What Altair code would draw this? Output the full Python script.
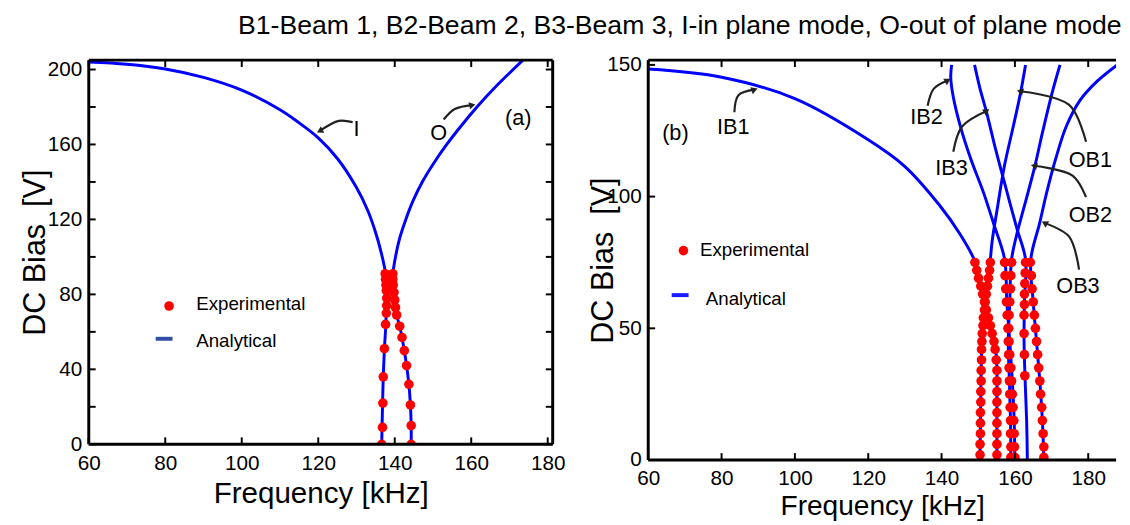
import math
import altair as alt
import pandas as pd

NARROW = "Liberation Sans Narrow, Arial Narrow, Liberation Sans, sans-serif"
SANS = "Liberation Sans, Arial, sans-serif"

# ---------------- panel (a) data ----------------
A_I_F = [60, 70, 80, 90, 100, 110, 115, 120, 125, 130, 133, 135, 136.5, 137.6, 137.8, 137.7, 137.3, 137.0, 136.8, 136.6]
A_I_V = [204, 202.8, 200.3, 195.8, 189, 178.5, 171.5, 163.5, 152.5, 137, 124.5, 113, 102, 91, 80, 65, 51, 36, 20, 0]
A_O_F = [144.3, 144.3, 144.1, 143.7, 143.1, 142.5, 141.9, 141.3, 140.5, 139.8, 139.5, 140.2, 141.3, 142.9, 144.8, 147.2, 150.2, 153.6, 157.4, 161.5, 166.0, 173.5]
A_O_V = [0, 10, 21, 32, 42, 50, 57, 63, 69, 80, 90, 100, 110, 120, 130, 140, 150, 160, 170, 180, 190, 205]

A_EXP_I_F = [136.6, 136.8, 136.9, 137.0, 137.3, 137.6, 137.8, 137.9, 137.9, 137.8, 137.7, 137.6, 137.5]
A_EXP_I_V = [0, 9, 22, 36, 51, 64, 70, 74, 78, 82, 85, 88, 91]
A_EXP_O_F = [144.3, 144.3, 144.1, 143.7, 143.1, 142.5, 141.9, 141.3, 140.5, 140.2, 140.0, 139.8, 139.6, 139.5, 139.5]
A_EXP_O_V = [0, 10, 21, 32, 42, 50, 57, 63, 69, 73, 77, 81, 85, 88, 91]

A_XTICKS = [60, 80, 100, 120, 140, 160, 180]
A_YTICKS = [0, 20, 40, 60, 80, 100, 120, 140, 160, 180, 200]
A_YLABELS = [0, 40, 80, 120, 160, 200]

A_LABELS = ["I", "O", "(a)"]
A_LABEL_F = [130.0, 151.5, 172.3]
A_LABEL_V = [168.2, 165.8, 174.0]

A_ARROWS = {
    "I": ([129.0, 125.4, 120.4], [171.9, 172.6, 167.2]),
    "O": ([152.8, 155.7, 160.3], [173.3, 178.9, 181.0]),
}

# ---------------- panel (b) data ----------------
B_CURVES = {
    "IB1": ([60, 80, 100, 120, 129.8, 139.4, 145.1, 149.1, 150.0, 150.9, 151.7, 152.6, 153.5, 154.3, 154.9, 155.1, 155.1, 155.1],
            [148.4, 145.3, 137.2, 121.6, 111.7, 96.8, 85.6, 75.4, 70, 65, 60, 55, 50, 45, 40, 35, 20, 0]),
    "IB2": ([142.75, 142.5, 143.2, 145.15, 148.0, 151.4, 154.3, 157.2, 157.8, 158.6, 159.3, 159.8, 160.0],
            [150, 145.3, 137.8, 126.6, 114.2, 101.7, 89.3, 76.2, 60, 45, 30, 15, 0]),
    "IB3": ([149.0, 150.4, 152.35, 154.75, 157.6, 160.5, 162.9, 162.6, 162.5, 162.8, 163.2, 163.4],
            [150, 141.5, 131.6, 117.9, 103, 88.1, 76.2, 60, 45, 30, 15, 0]),
    "OB1": ([162.9, 161.5, 159.55, 157.15, 155.2, 153.8, 153.3, 152.4, 151.5, 151.0, 150.7, 150.5],
            [150, 139.1, 126.6, 111.7, 95.5, 83.1, 76.2, 65, 55, 45, 25, 0]),
    "OB2": ([172.3, 170.1, 167.7, 165.3, 162.4, 160.5, 159.1, 158.6, 158.2, 158.5, 158.8, 158.9],
            [150, 139.1, 125.4, 110.7, 95.5, 85.6, 76.2, 60, 45, 30, 15, 0]),
    "OB3": ([187.9, 182.6, 177.8, 174.0, 171.1, 168.7, 166.75, 164.35, 165.0, 165.9, 166.8, 167.5, 167.9],
            [150, 144.0, 136.6, 126.6, 114.2, 101.7, 89.9, 76.2, 60, 45, 30, 15, 0]),
}

B_EXP = {
    "IB1": ([149.1, 149.6, 150.1, 150.7, 151.2, 151.7, 152.2, 152.8, 153.3, 153.8, 154.3, 154.6, 154.9, 155.1, 155.1, 155.1, 155.1, 155.1, 155.1, 155.1, 155.1, 155.1],
            [75, 72, 69, 66, 63, 60, 57, 54, 51, 48, 45, 42, 38, 34, 30, 26, 22, 18, 14, 10, 6, 2]),
    "OB1": ([153.3, 153.1, 152.8, 152.5, 152.2, 151.9, 151.7, 151.4, 151.3, 151.1, 151.0, 150.9, 150.9, 150.8, 150.8, 150.7, 150.7, 150.6, 150.6, 150.6, 150.5, 150.5],
            [75, 72, 69, 66, 63, 60, 57, 54, 51, 48, 45, 42, 38, 34, 30, 26, 22, 18, 14, 10, 6, 2]),
    "IB2": ([157.2, 157.3, 157.5, 157.7, 157.9, 158.1, 158.4, 158.6, 158.9, 159.1, 159.3, 159.5, 159.7, 159.8, 159.9, 160.0],
            [75, 70, 65, 60, 55, 50, 45, 40, 35, 30, 25, 20, 15, 10, 5, 1]),
    "OB2": ([159.1, 158.9, 158.8, 158.6, 158.4, 158.3, 158.2, 158.3, 158.4, 158.5, 158.6, 158.7, 158.8, 158.8, 158.9, 158.9],
            [75, 70, 65, 60, 55, 50, 45, 40, 35, 30, 25, 20, 15, 10, 5, 1]),
    "IB3": ([162.9, 162.8, 162.7, 162.6, 162.6, 162.5, 162.5, 162.6, 162.7],
            [75, 71, 67, 63, 59, 55, 48, 40, 32]),
    "OB3": ([164.2, 164.5, 164.7, 165.0, 165.3, 165.6, 165.9, 166.2, 166.5, 166.8, 167.0, 167.3, 167.5, 167.7, 167.9, 167.9],
            [75, 70, 65, 60, 55, 50, 45, 40, 35, 30, 25, 20, 15, 10, 5, 1]),
}

B_XTICKS = [60, 80, 100, 120, 140, 160, 180]
B_YTICKS = [0, 50, 100, 150]

B_LABELS = ["(b)", "IB1", "IB2", "IB3", "OB1", "OB2", "OB3"]
B_LABEL_F = [67.4, 83.2, 135.9, 142.7, 180.6, 180.6, 177.2]
B_LABEL_V = [124.1, 126.3, 130.0, 111.0, 113.8, 92.9, 66.1]

B_ARROWS = {
    "IB1": ([83.5, 84.6, 89.0], [132.0, 138.5, 140.6]),
    "IB2": ([136.2, 137.9, 141.7], [134.5, 141.0, 144.1]),
    "IB3": ([143.2, 145.6, 152.3], [117.0, 126.6, 132.5]),
    "OB1": ([179.4, 174.8, 161.4], [120.8, 134.8, 140.0]),
    "OB2": ([179.4, 175.8, 165.2], [99.8, 107.9, 111.7]),
    "OB3": ([177.5, 174.8, 168.1], [72.3, 84.8, 90.0]),
}

# legend entries (position in data units)
A_LEG = {"dot": (81.0, 73.8), "exp_text": (88.1, 74.7), "dash": ([77.5, 81.9], 56.3), "ana_text": (88.1, 54.9)}
B_LEG = {"dot": (69.6, 79.5), "exp_text": (74.1, 79.8), "dash": ([66.4, 71.0], 62.6), "ana_text": (75.7, 61.1)}

TITLE = "B1-Beam 1, B2-Beam 2, B3-Beam 3, I-in plane mode, O-out of plane mode"


def build_panel(W, H, xdom, ydom, curves, exps, xticks, yticks, ylabels, labels, arrows, leg,
                ytitle_x, xtitle_y, xlabel_pad, xtitle_size, right_border, dash_color):
    xs = alt.Scale(domain=xdom, nice=False, zero=False)
    ys = alt.Scale(domain=ydom, nice=False, zero=False)

    xaxis = alt.Axis(values=xticks, ticks=False, domain=False, grid=False, labelFont=NARROW,
                     labelFontSize=21, labelColor="black", labelPadding=xlabel_pad, labelFlush=False,
                     labelOverlap=False, title="Frequency [kHz]", titleFont=SANS, titleFontSize=xtitle_size,
                     titleFontWeight="normal", titleColor="black", titleY=xtitle_y,
                     titleBaseline="middle", titleX=W / 2, titleAlign="center")
    yaxis = alt.Axis(values=ylabels, ticks=False, domain=False, grid=False, labelFont=NARROW,
                     labelFontSize=21, labelColor="black", labelPadding=7, labelFlush=False,
                     labelOverlap=False, title="DC Bias\u00a0\u00a0[V]", titleFont=SANS, titleFontSize=31,
                     titleFontWeight="normal", titleColor="black", titleX=ytitle_x, titleY=H / 2,
                     titleBaseline="middle", titleAlign="center", titleAngle=270)

    def X():
        return alt.X("f:Q", scale=xs, axis=xaxis)

    def Y():
        return alt.Y("V:Q", scale=ys, axis=yaxis)

    rows = []
    for name, (fs, vs) in curves.items():
        for i, (f, v) in enumerate(zip(fs, vs)):
            rows.append({"f": f, "V": v, "curve": name, "idx": i})
    cdf = pd.DataFrame(rows)

    erows = []
    for name, (fs, vs) in exps.items():
        for f, v in zip(fs, vs):
            erows.append({"f": f, "V": v, "branch": name})
    edf = pd.DataFrame(erows)

    lines = alt.Chart(cdf).mark_line(color="#0000ff", strokeWidth=3, interpolate="catmull-rom",
                                     clip=True).encode(x=X(), y=Y(), detail="curve:N", order="idx:Q")
    pts = alt.Chart(edf).mark_point(shape="circle", filled=True, size=95, color="#ff0000",
                                    opacity=1, clip=True).encode(x=X(), y=Y())

    # arrows
    sx = W / (xdom[1] - xdom[0])
    sy = H / (ydom[1] - ydom[0])
    arows, heads = [], []
    for name, (fs, vs) in arrows.items():
        for i, (f, v) in enumerate(zip(fs, vs)):
            arows.append({"f": f, "V": v, "arrow": name, "idx": i})
        dx = (fs[-1] - fs[-2]) * sx
        dy = -(vs[-1] - vs[-2]) * sy
        ang = math.degrees(math.atan2(dx, -dy)) % 360
        heads.append({"f": fs[-1], "V": vs[-1], "ang": ang})
    adf = pd.DataFrame(arows)
    hdf = pd.DataFrame(heads)
    arrow_lines = alt.Chart(adf).mark_line(color="#222222", strokeWidth=2.2,
                                           interpolate="catmull-rom").encode(
        x=X(), y=Y(), detail="arrow:N", order="idx:Q")
    arrow_heads = alt.Chart(hdf).mark_point(shape="triangle-up", filled=True, size=55,
                                            color="#222222", opacity=1).encode(
        x=X(), y=Y(), angle=alt.Angle("ang:Q", scale=None))

    ldf = pd.DataFrame({"f": labels[1], "V": labels[2], "t": labels[0]})
    texts = alt.Chart(ldf).mark_text(font=SANS, fontSize=22, color="black", align="center",
                                     baseline="middle").encode(x=X(), y=Y(), text="t:N")

    # legend
    dot_df = pd.DataFrame({"f": [leg["dot"][0]], "V": [leg["dot"][1]]})
    leg_dot = alt.Chart(dot_df).mark_point(shape="circle", filled=True, size=95, color="#ff0000",
                                           opacity=1).encode(x=X(), y=Y())
    dash_df = pd.DataFrame({"f": leg["dash"][0], "V": [leg["dash"][1]] * 2})
    leg_dash = alt.Chart(dash_df).mark_line(color=dash_color, strokeWidth=4).encode(x=X(), y=Y())
    lt_df = pd.DataFrame({"f": [leg["exp_text"][0], leg["ana_text"][0]],
                          "V": [leg["exp_text"][1], leg["ana_text"][1]],
                          "t": ["Experimental", "Analytical"]})
    leg_text = alt.Chart(lt_df).mark_text(font=SANS, fontSize=19, color="black", align="left",
                                          baseline="middle").encode(x=X(), y=Y(), text="t:N")

    # inward ticks
    xt_df = pd.DataFrame({"f": xticks})
    yt_df = pd.DataFrame({"V": yticks})
    tick_b = alt.Chart(xt_df).mark_rule(color="black", strokeWidth=2).encode(
        x=X(), y=alt.value(H), y2=alt.value(H - 7))
    tick_t = alt.Chart(xt_df).mark_rule(color="black", strokeWidth=2).encode(
        x=X(), y=alt.value(0), y2=alt.value(7))
    tick_l = alt.Chart(yt_df).mark_rule(color="black", strokeWidth=2).encode(
        y=Y(), x=alt.value(0), x2=alt.value(7))
    layers = [lines, pts, arrow_lines, arrow_heads, texts, leg_dot, leg_dash, leg_text,
              tick_b, tick_t, tick_l]
    if right_border:
        tick_r = alt.Chart(yt_df).mark_rule(color="black", strokeWidth=2).encode(
            y=Y(), x=alt.value(W), x2=alt.value(W - 7))
        layers.append(tick_r)

    # frame
    one = pd.DataFrame({"k": [0]})
    fr = dict(color="black", strokeWidth=3)
    layers.append(alt.Chart(one).mark_rule(**fr).encode(x=alt.value(0), x2=alt.value(W), y=alt.value(0)))
    layers.append(alt.Chart(one).mark_rule(**fr).encode(x=alt.value(0), x2=alt.value(W), y=alt.value(H)))
    layers.append(alt.Chart(one).mark_rule(**fr).encode(x=alt.value(0), y=alt.value(0), y2=alt.value(H)))
    if right_border:
        layers.append(alt.Chart(one).mark_rule(**fr).encode(x=alt.value(W), y=alt.value(0), y2=alt.value(H)))

    return alt.layer(*layers).properties(width=W, height=H)


panel_a = build_panel(
    471, 390, [60, 181.3], [0, 205],
    {"I": (A_I_F, A_I_V), "O": (A_O_F, A_O_V)},
    {"I": (A_EXP_I_F, A_EXP_I_V), "O": (A_EXP_O_F, A_EXP_O_V)},
    A_XTICKS, A_YTICKS, A_YLABELS,
    (A_LABELS, A_LABEL_F, A_LABEL_V), A_ARROWS, A_LEG,
    ytitle_x=-54, xtitle_y=50, xlabel_pad=9, xtitle_size=30, right_border=True, dash_color="#2f4fa5")

panel_b = build_panel(
    475, 406, [60, 187.6], [0, 151.8],
    B_CURVES, B_EXP,
    B_XTICKS, B_YTICKS, B_YTICKS,
    (B_LABELS, B_LABEL_F, B_LABEL_V), B_ARROWS, B_LEG,
    ytitle_x=-45, xtitle_y=46, xlabel_pad=8, xtitle_size=28.5, right_border=False, dash_color="#1a1aff")

chart = alt.hconcat(panel_a, panel_b, spacing=97, bounds="flush").properties(
    title=alt.TitleParams(text=TITLE, anchor="end", font=SANS, fontSize=27, fontWeight="normal",
                          color="black", offset=14, dx=4),
    padding={"left": 12, "top": 0, "right": 0, "bottom": 0},
).configure_view(stroke=None)

chart.save("out.html", embed_options={"renderer": "svg", "actions": False})
